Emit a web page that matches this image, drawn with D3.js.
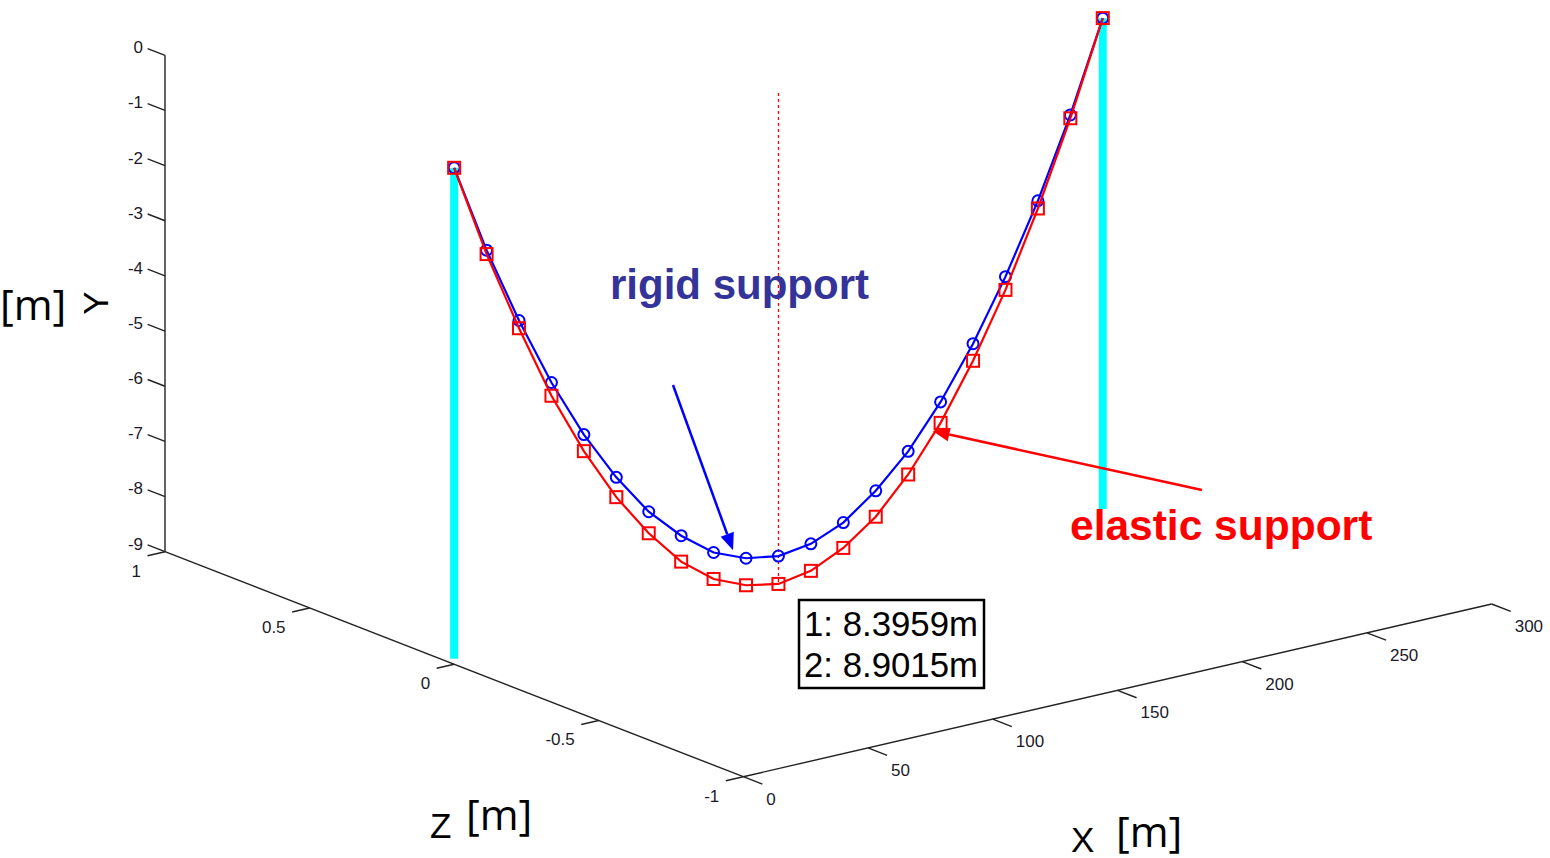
<!DOCTYPE html>
<html>
<head>
<meta charset="utf-8">
<script src="https://cdn.jsdelivr.net/npm/d3@7"></script>
<style>
  html, body { margin: 0; padding: 0; background: #fff; }
  svg { display: block; font-family: Arial, "Liberation Sans", sans-serif; }
</style>
</head>
<body>
<svg id="chart" width="1550" height="858"></svg>
<script>
// Datos: posicion horizontal de los nodos del cable [m]
var spanX = [0, 13, 26, 39, 52, 65, 78, 91, 104, 117, 130, 143, 156, 169, 182, 195, 208, 221, 234, 247, 260];
// Flecha vertical con apoyo rigido (1) y con apoyo elastico (2)
var rigidY = [0, -1.63, -3.04, -4.30, -5.38, -6.29, -7.05, -7.62, -8.06, -8.30, -8.3959, -8.31, -8.06, -7.62, -7.04, -6.28, -5.36, -4.28, -3.04, -1.62, 0];
var elasticY = [0, -1.70, -3.18, -4.54, -5.68, -6.65, -7.44, -8.09, -8.54, -8.79, -8.9015, -8.80, -8.52, -8.09, -7.46, -6.66, -5.67, -4.52, -3.18, -1.68, 0];
var sagLabels = ['1: 8.3959m', '2: 8.9015m'];

// Postes (torres) y linea de flecha maxima
var poleX = [0, 260];
var poleY = [0, -8.9];
var midX = 130;

// Ticks de los ejes
var xTicks = [0, 50, 100, 150, 200, 250, 300];
var yTicks = [0, -1, -2, -3, -4, -5, -6, -7, -8, -9];
var zTicks = [1, 0.5, 0, -0.5, -1];

// Proyeccion 3D -> 2D (vista tipo MATLAB)
var corner = [743.3, 776.7];       // x=0, y=-9, z=-1
var xVec = [748.4, -172.7];
var yVec = [0, -496.4];
var zVec = [-578.3, -225];

var kx = d3.scaleLinear().domain([0, 300]).range([0, 1]);
var ky = d3.scaleLinear().domain([-9, 0]).range([0, 1]);
var kz = d3.scaleLinear().domain([-1, 1]).range([0, 1]);

function P(x, y, z) {
  var a = kx(x), b = ky(y), c = kz(z);
  return [corner[0] + a * xVec[0] + b * yVec[0] + c * zVec[0],
          corner[1] + a * xVec[1] + b * yVec[1] + c * zVec[1]];
}

var svg = d3.select('#chart');
var axisColor = '#222';

// Ejes
var axes = svg.append('g');
function seg(p, q, col, w) {
  axes.append('line')
    .attr('x1', p[0]).attr('y1', p[1])
    .attr('x2', q[0]).attr('y2', q[1])
    .attr('stroke', col || axisColor)
    .attr('stroke-width', w || 1.4);
}

// Eje X
seg(P(0, -9, -1), P(300, -9, -1));
xTicks.forEach(function (t) {
  var p = P(t, -9, -1);
  seg(p, P(t, -9, -1.066));
  axes.append('text')
    .attr('x', p[0] + 23).attr('y', p[1] + 22)
    .attr('dy', '0.35em')
    .attr('font-size', 17).attr('fill', '#1a1a2a')
    .text(t);
});

// Eje Y
seg(P(0, -9, 1), P(0, 0, 1));
yTicks.forEach(function (t) {
  var p = P(0, t, 1);
  seg(p, P(0, t, 1.06));
  axes.append('text')
    .attr('x', p[0] - 22).attr('y', p[1] - 8)
    .attr('dy', '0.35em')
    .attr('text-anchor', 'end')
    .attr('font-size', 17).attr('fill', '#1a1a2a')
    .text(t);
});

// Eje Z
seg(P(0, -9, 1), P(0, -9, -1));
zTicks.forEach(function (t) {
  var p = P(0, -9, t);
  seg(p, P(-7, -9, t));
  axes.append('text')
    .attr('x', p[0] - 24).attr('y', p[1] + 19)
    .attr('dy', '0.35em')
    .attr('text-anchor', 'end')
    .attr('font-size', 17).attr('fill', '#1a1a2a')
    .text(t);
});

// Postes
poleX.forEach(function (px) {
  var a = P(px, poleY[0], 0), b = P(px, poleY[1], 0);
  svg.append('line')
    .attr('x1', a[0]).attr('y1', a[1])
    .attr('x2', b[0]).attr('y2', b[1])
    .attr('stroke', '#00ffff')
    .attr('stroke-width', 8);
});

// Linea punteada de flecha maxima
var m1 = P(midX, 0, 0), m2 = P(midX, d3.min(elasticY), 0);
svg.append('line')
  .attr('x1', m1[0]).attr('y1', m1[1])
  .attr('x2', m2[0]).attr('y2', m2[1])
  .attr('stroke', '#ff0000')
  .attr('stroke-width', 1.3)
  .attr('stroke-dasharray', '3,3');

var line = d3.line().x(function (d) { return d[0]; }).y(function (d) { return d[1]; });

// Serie rigida (azul, circulos)
var rigidPts = spanX.map(function (x, i) { return P(x, rigidY[i], 0); });
svg.append('path')
  .attr('d', line(rigidPts))
  .attr('fill', 'none')
  .attr('stroke', '#0000ff')
  .attr('stroke-width', 2.2);
svg.selectAll('.rig')
  .data(rigidPts)
  .enter()
  .append('circle')
  .attr('class', 'rig')
  .attr('cx', function (d) { return d[0]; })
  .attr('cy', function (d) { return d[1]; })
  .attr('r', 5.5)
  .attr('fill', 'none')
  .attr('stroke', '#0000ff')
  .attr('stroke-width', 2);

// Serie elastica (roja, cuadrados)
var elasticPts = spanX.map(function (x, i) { return P(x, elasticY[i], 0); });
svg.append('path')
  .attr('d', line(elasticPts))
  .attr('fill', 'none')
  .attr('stroke', '#ff0000')
  .attr('stroke-width', 2.2);
svg.selectAll('.ela')
  .data(elasticPts)
  .enter()
  .append('rect')
  .attr('class', 'ela')
  .attr('x', function (d) { return d[0] - 6; })
  .attr('y', function (d) { return d[1] - 6; })
  .attr('width', 12)
  .attr('height', 12)
  .attr('fill', 'none')
  .attr('stroke', '#ff0000')
  .attr('stroke-width', 2);

// Flechas de anotacion
function arrow(from, to, col) {
  var dx = to[0] - from[0], dy = to[1] - from[1];
  var len = Math.sqrt(dx * dx + dy * dy);
  var ux = dx / len, uy = dy / len;
  var hl = 17, hw = 7;
  var bx = to[0] - ux * hl, by = to[1] - uy * hl;
  svg.append('line')
    .attr('x1', from[0]).attr('y1', from[1])
    .attr('x2', bx).attr('y2', by)
    .attr('stroke', col).attr('stroke-width', 2.5);
  svg.append('polygon')
    .attr('points', [to, [bx - uy * hw, by + ux * hw], [bx + uy * hw, by - ux * hw]].map(function (p) { return p.join(','); }).join(' '))
    .attr('fill', col);
}
var rTip = P(spanX[9], rigidY[9], 0);
arrow([673, 385], [rTip[0] - 13, rTip[1] - 8], '#0000ff');
var eTip = P(spanX[15], elasticY[15], 0);
arrow([1202, 490], [eTip[0] - 8, eTip[1] + 8], '#ff0000');

svg.append('text')
  .attr('x', 610).attr('y', 299)
  .attr('font-size', 42).attr('font-weight', 'bold')
  .attr('fill', '#333399')
  .text('rigid support');

svg.append('text')
  .attr('x', 1070).attr('y', 540)
  .attr('font-size', 42.5).attr('font-weight', 'bold')
  .attr('fill', '#ff0000')
  .text('elastic support');

// Cuadro con flechas maximas
svg.append('rect')
  .attr('x', 799).attr('y', 600)
  .attr('width', 185).attr('height', 88)
  .attr('fill', '#fff')
  .attr('stroke', '#000')
  .attr('stroke-width', 2.5);
svg.selectAll('.sag')
  .data(sagLabels)
  .enter()
  .append('text')
  .attr('class', 'sag')
  .attr('x', 804)
  .attr('y', function (d, i) { return 636 + i * 41; })
  .attr('font-size', 35)
  .attr('textLength', 174)
  .attr('lengthAdjust', 'spacingAndGlyphs')
  .attr('fill', '#000')
  .text(function (d) { return d; });

// Titulos de ejes
svg.append('text')
  .attr('x', 0).attr('y', 320)
  .attr('font-family', '"Open Sans", sans-serif')
  .attr('font-size', 42)
  .text('[m]');
svg.append('text')
  .attr('transform', 'translate(108,303) rotate(-90)')
  .attr('text-anchor', 'middle')
  .attr('font-size', 35)
  .text('Y');

svg.append('text')
  .attr('x', 430).attr('y', 838)
  .attr('font-size', 35)
  .text('Z');
svg.append('text')
  .attr('x', 466).attr('y', 830)
  .attr('font-family', '"Open Sans", sans-serif')
  .attr('font-size', 42)
  .text('[m]');

svg.append('text')
  .attr('x', 1071).attr('y', 852)
  .attr('font-size', 35)
  .text('X');
svg.append('text')
  .attr('x', 1116).attr('y', 847)
  .attr('font-family', '"Open Sans", sans-serif')
  .attr('font-size', 42)
  .text('[m]');
</script>
</body>
</html>
